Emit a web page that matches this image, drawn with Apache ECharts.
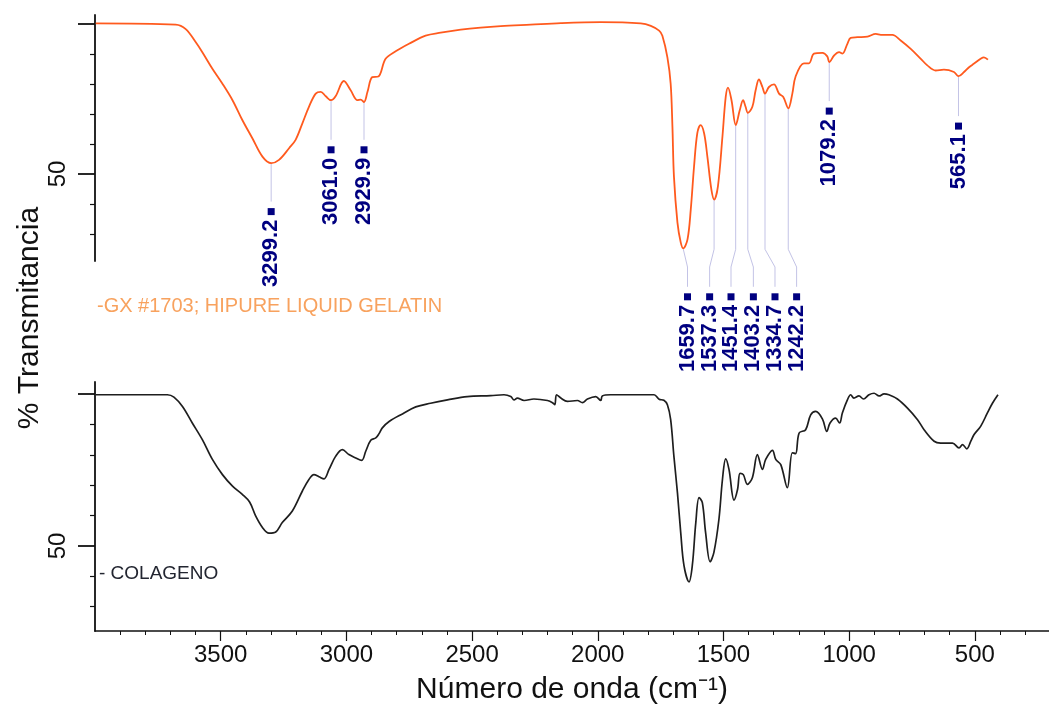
<!DOCTYPE html>
<html>
<head>
<meta charset="utf-8">
<style>
html,body{margin:0;padding:0;background:#fff;}
#chart{width:1049px;height:706px;}
</style>
<script src="https://cdn.jsdelivr.net/npm/echarts@6/dist/echarts.min.js"></script>
</head>
<body>
<div id="chart"></div>
<script>
// ---- data (wavenumber cm-1, % transmittance) ----
const wnTop = [3997,3679,3639,3599,3573,3533,3493,3453,3414,3374,3334,3299,3268,3228,3202,3175,3149,3122,3102,3082,3061,3043,3010,2983,2956,2943,2930,2916,2897,2873,2844,2804,2751,2685,2625,2545,2466,2386,2267,2147,1988,1829,1789,1756,1743,1723,1710,1703,1697,1683,1670,1660,1643,1630,1617,1604,1591,1577,1564,1548,1537,1522,1504,1491,1482,1468,1451,1435,1422,1412,1403,1385,1372,1359,1345,1335,1319,1299,1279,1262,1242,1226,1213,1180,1160,1140,1106,1087,1079,1060,1040,1027,1007,994,967,927,894,874,828,795,755,715,689,656,623,583,565,543,523,503,477,464,448];
const tTop = [100.2,99.8,98.3,93.9,90.6,85.1,80.1,74.6,68.0,61.9,55.8,53.6,54.7,58.6,61.4,66.9,72.4,76.8,77.4,75.9,74.6,75.9,81.0,77.9,74.6,74.8,74.0,77.4,82.3,82.5,88.4,90.9,93.4,96.1,97.1,98.1,98.8,99.3,99.8,100.3,100.6,100.2,99.4,97.8,96.1,88.9,80.1,65.8,49.2,33.8,27.2,25.2,28.2,38.2,52.5,63.6,66.3,63.6,55.8,44.8,41.5,45.9,62.5,75.7,78.8,74.6,66.3,71.3,74.6,72.4,70.4,72.4,77.9,81.5,79.0,76.8,79.0,79.9,76.8,75.7,71.9,76.8,82.5,86.9,86.9,90.1,90.4,89.2,87.3,89.5,90.6,90.1,93.4,95.4,95.6,95.8,96.7,96.4,96.4,94.5,91.7,88.4,86.2,84.5,84.8,84.0,82.6,84.0,85.6,86.8,88.4,88.9,88.1];

const wnBottom = [3997,3712,3686,3652,3613,3573,3533,3493,3453,3414,3385,3361,3334,3308,3281,3255,3215,3175,3149,3129,3109,3089,3069,3043,3016,2990,2963,2939,2923,2903,2883,2870,2857,2830,2777,2724,2665,2598,2519,2426,2373,2346,2333,2320,2293,2254,2200,2180,2171,2164,2147,2121,2081,2061,2041,2008,1988,1982,1949,1829,1776,1756,1737,1723,1710,1697,1683,1670,1657,1637,1624,1610,1597,1584,1571,1553,1538,1518,1504,1491,1478,1458,1444,1434,1421,1405,1385,1365,1345,1332,1305,1292,1272,1246,1226,1213,1199,1173,1153,1133,1106,1089,1076,1054,1038,1027,1007,994,981,961,943,921,901,881,861,842,808,768,728,702,662,636,589,563,549,532,516,503,477,450,430,408];
const tBottom = [99.8,99.8,99.0,95.9,90.5,85.0,78.5,73.5,69.7,67.0,64.5,59.9,56.1,54.2,54.6,57.7,61.5,68.1,71.9,73.5,72.8,72.1,75.2,79.5,81.7,80.1,79.0,78.2,81.2,84.8,85.6,87.0,88.9,91.0,93.5,95.8,97.0,98.1,99.2,99.5,99.8,99.2,98.1,98.7,97.9,98.4,97.9,97.2,96.5,99.8,98.7,97.6,97.9,97.2,98.4,99.2,97.9,99.4,99.8,99.8,99.8,98.3,98.0,96.5,91.6,79.4,67.5,54.4,43.5,38.2,43.5,57.7,65.9,64.3,54.4,44.8,47.9,58.8,71.9,78.7,75.2,65.1,68.6,73.9,73.5,70.3,72.5,80.1,75.2,78.5,81.5,78.5,76.8,69.2,80.7,80.4,87.2,88.3,93.2,94.3,91.8,87.7,90.5,92.1,90.5,93.8,98.1,99.8,98.7,99.4,98.4,99.8,100.3,99.4,100.1,99.8,98.4,95.4,91.6,88.3,84.5,83.9,83.9,82.3,83.4,82.0,84.5,86.7,89.4,93.8,97.0,99.8];

// peak annotations (top spectrum)
const peakWn   = [3299.2, 3061.0, 2929.9, 1659.7, 1537.3, 1451.4, 1403.2, 1334.7, 1242.2, 1079.2, 565.1];
const peakT    = [53.6, 74.6, 74.0, 25.2, 41.5, 66.3, 70.4, 76.8, 71.9, 87.3, 82.6];
const labelWn  = [3299.2, 3061.0, 2929.9, 1643, 1555, 1470, 1381, 1295, 1209, 1079.2, 565.1];
const bendHiT  = [40.8, 61.4, 61.4, 24.9, 24.9, 24.9, 24.9, 24.9, 24.9, 74.3, 69.3];
const bendLoT  = [40.8, 61.4, 61.4, 19.0, 19.0, 19.0, 19.0, 19.0, 19.0, 74.3, 69.3];
const leaderEndT = [40.8, 61.4, 61.4, 12.4, 12.4, 12.4, 12.4, 12.4, 12.4, 74.3, 69.3];

// axis ticks
const xMajorTicks = [500, 1000, 1500, 2000, 2500, 3000, 3500];
const xMinorTicks = [];
for (let v = 300; v <= 3900; v += 100) if (v % 500 !== 0) xMinorTicks.push(v);
const yMajorTicks = [50, 100];
const yMinorTicks = [30, 40, 60, 70, 80, 90];
const yLabels = [50];

const seriesTopName = '-GX #1703; HIPURE LIQUID GELATIN';
const seriesBottomName = '- COLAGENO';

const X_MIN = 205, X_MAX = 4000;
const FONT = '"Liberation Sans", Arial, Helvetica, sans-serif';

const topData = wnTop.map((w, i) => [w, tTop[i]]);
const bottomData = wnBottom.map((w, i) => [w, tBottom[i]]);
const annData = peakWn.map((w, i) => [w, peakT[i], labelWn[i], bendHiT[i], bendLoT[i], leaderEndT[i]]);

function xAxisBase(grid) {
  return { type: 'value', gridIndex: grid, min: X_MIN, max: X_MAX, inverse: true, position: 'bottom',
           splitLine: { show: false } };
}

const chart = echarts.init(document.getElementById('chart'), null, { renderer: 'canvas' });

const option = {
  animation: false,
  backgroundColor: '#fff',
  grid: [
    { left: 95, right: 0, top: 15, height: 246 },
    { left: 95, right: 0, top: 382, height: 251 }
  ],
  xAxis: [
    Object.assign(xAxisBase(0), { show: false }),
    Object.assign(xAxisBase(1), {
      axisLine: { show: true, lineStyle: { color: '#111', width: 1.5 } },
      axisTick: { show: true, customValues: xMajorTicks, length: 10, lineStyle: { color: '#111', width: 1.2 } },
      axisLabel: { show: true, customValues: xMajorTicks, margin: 12, fontSize: 24, color: '#111', fontFamily: FONT,
                   formatter: function (v) { return String(v); } },
      name: 'Número de onda (cm⁻¹)', nameLocation: 'middle', nameGap: 44,
      nameTextStyle: { fontSize: 30, color: '#111', fontFamily: FONT }
    }),
    Object.assign(xAxisBase(1), {
      axisLine: { show: false },
      axisTick: { show: true, customValues: xMinorTicks, length: 4, lineStyle: { color: '#111', width: 1 } },
      axisLabel: { show: false }
    })
  ],
  yAxis: [
    { type: 'value', gridIndex: 0, min: 21, max: 103, position: 'left', splitLine: { show: false },
      axisLine: { show: true, lineStyle: { color: '#111', width: 1.8 } },
      axisTick: { show: true, customValues: yMajorTicks, length: 17, lineStyle: { color: '#111', width: 1.8 } },
      axisLabel: { show: true, customValues: yLabels, rotate: 90, margin: 25, fontSize: 24, color: '#111', fontFamily: FONT } },
    { type: 'value', gridIndex: 0, min: 21, max: 103, position: 'left', splitLine: { show: false },
      axisLine: { show: false },
      axisTick: { show: true, customValues: yMinorTicks, length: 5, lineStyle: { color: '#111', width: 1.2 } },
      axisLabel: { show: false } },
    { type: 'value', gridIndex: 1, min: 22, max: 104, position: 'left', splitLine: { show: false },
      axisLine: { show: true, lineStyle: { color: '#111', width: 1.8 } },
      axisTick: { show: true, customValues: yMajorTicks, length: 17, lineStyle: { color: '#111', width: 1.8 } },
      axisLabel: { show: true, customValues: yLabels, rotate: 90, margin: 25, fontSize: 24, color: '#111', fontFamily: FONT } },
    { type: 'value', gridIndex: 1, min: 22, max: 104, position: 'left', splitLine: { show: false },
      axisLine: { show: false },
      axisTick: { show: true, customValues: yMinorTicks, length: 5, lineStyle: { color: '#111', width: 1.2 } },
      axisLabel: { show: false } }
  ],
  series: [
    {
      name: 'peaks', type: 'custom', xAxisIndex: 0, yAxisIndex: 0, clip: false, z: 1,
      data: annData,
      encode: { x: 0, y: 1 },
      renderItem: function (params, api) {
        const p0 = api.coord([api.value(0), api.value(1)]);
        const p1 = api.coord([api.value(0), api.value(3)]);
        const p2 = api.coord([api.value(2), api.value(4)]);
        const p3 = api.coord([api.value(2), api.value(5)]);
        const txt = Number(api.value(0)).toFixed(1);
        return {
          type: 'group',
          children: [
            { type: 'polyline', shape: { points: [p0, p1, p2, p3] },
              style: { stroke: '#c3c3e6', lineWidth: 1, fill: null } },
            { type: 'rect', shape: { x: p3[0] - 3.5, y: p3[1] + 6.5, width: 7, height: 7 },
              style: { fill: '#000080' } },
            { type: 'text', x: p3[0], y: p3[1] + 18, rotation: Math.PI / 2,
              style: { text: txt, fill: '#000080', align: 'right', verticalAlign: 'middle',
                       font: 'bold 22px ' + FONT } }
          ]
        };
      }
    },
    {
      name: seriesTopName, type: 'line', xAxisIndex: 0, yAxisIndex: 0, data: topData,
      showSymbol: false, smooth: 0.35, z: 3,
      lineStyle: { color: '#ff5a1e', width: 1.8 }
    },
    {
      name: seriesBottomName, type: 'line', xAxisIndex: 1, yAxisIndex: 2, data: bottomData,
      showSymbol: false, smooth: 0.35, z: 3,
      lineStyle: { color: '#1e1e1e', width: 1.7 }
    }
  ],
  graphic: [
    { type: 'text', left: 97, top: 296, style: { text: seriesTopName, fill: '#f8a25e', font: '20px ' + FONT } },
    { type: 'text', left: 99, top: 564, style: { text: seriesBottomName, fill: '#222530', font: '19px ' + FONT } },
    { type: 'text', x: 30, y: 318, rotation: Math.PI / 2,
      style: { text: '% Transmitancia', fill: '#111', font: '30px ' + FONT, align: 'center', verticalAlign: 'middle' } }
  ]
};

chart.setOption(option);
</script>
</body>
</html>
